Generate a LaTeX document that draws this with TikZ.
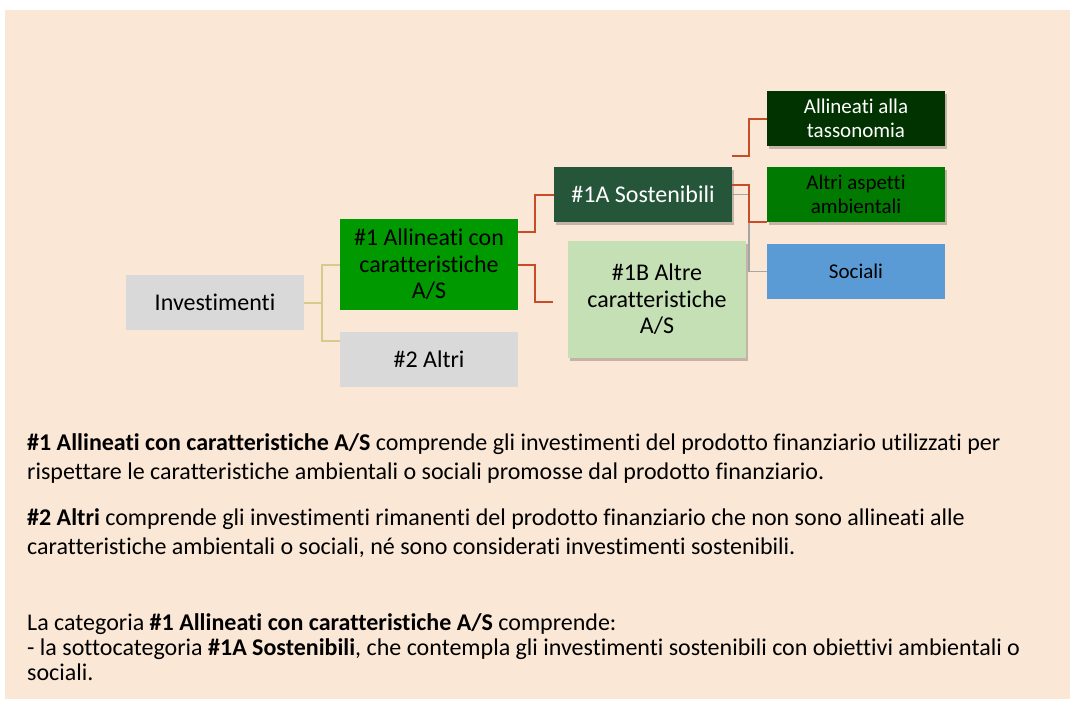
\documentclass[tikz,border=0pt]{standalone}
\usepackage{fontspec}
\setmainfont{Carlito}[Ligatures={NoCommon}]
\usetikzlibrary{shadows}
\definecolor{bgpeach}{RGB}{250,231,214}
\definecolor{boxgray}{RGB}{217,217,217}
\definecolor{grn}{RGB}{0,153,0}
\definecolor{darkgrn}{RGB}{38,86,58}
\definecolor{taxgrn}{RGB}{0,51,0}
\definecolor{ambgrn}{RGB}{0,122,0}
\definecolor{socblue}{RGB}{91,155,213}
\definecolor{lightgrn}{RGB}{197,224,180}
\definecolor{redline}{RGB}{200,76,40}
\definecolor{oliveline}{RGB}{214,203,140}
\definecolor{grayline}{RGB}{165,165,165}
\begin{document}
\begin{tikzpicture}[x=1pt,y=-1pt,
  box/.style={inner sep=0pt, align=center, minimum width=178pt, minimum height=55pt},
  bigtxt/.style={font=\fontsize{24}{26.5}\selectfont},
  smalltxt/.style={font=\fontsize{21}{24}\selectfont},
  shad/.style={drop shadow={shadow xshift=2pt, shadow yshift=-3pt, opacity=0.22, fill=black}},
  conn/.style={line width=2pt},
  bodyline/.style={anchor=base west, inner sep=0pt, font=\fontsize{24}{29}\selectfont}
]
\useasboundingbox (0,0) rectangle (1070,701);
\fill[white] (0,0) rectangle (1070,701);
\fill[bgpeach] (5,10) rectangle (1070,699);

% boxes
\node[box, bigtxt, fill=boxgray] (inv) at (215,302.5) {Investimenti};
\node[box, bigtxt, fill=grn, minimum height=91pt] (n1) at (429,264.5) {\#1 Allineati con\\caratteristiche\\A/S};
\node[box, bigtxt, fill=boxgray] (n2) at (429,359.5) {\#2 Altri};
\node[box, bigtxt, fill=darkgrn, text=white, shad] (n1a) at (643,194.5) {\#1A Sostenibili};
\node[box, bigtxt, fill=lightgrn, minimum height=117pt, shad] (n1b) at (657,299.5) {\#1B Altre\\caratteristiche\\A/S};
\node[box, smalltxt, fill=taxgrn, text=white, shad] (tax) at (856,118.5) {Allineati alla\\tassonomia};
\node[box, smalltxt, fill=ambgrn, shad] (amb) at (856,194.5) {Altri aspetti\\ambientali};
\node[box, smalltxt, fill=socblue] (soc) at (856,271.5) {Sociali};

% connectors
\draw[conn, oliveline] (inv.east) -- ++(18,0) |- (n1.west);
\draw[conn, oliveline] (inv.east) -- ++(18,0) |- ([yshift=-9pt]n2.north west);
\draw[conn, redline] ([yshift=-13pt]n1.north east) -- ++(17,0) |- (n1a.west);
\draw[conn, redline] (n1.east) -- ++(17,0) |- ([xshift=-15pt,yshift=-2.5pt]n1b.west);
\draw[line width=1.5pt, grayline] (n1a.east) -- ++(17,0) |- (soc.west);
\draw[conn, redline] ([yshift=9.5pt]n1a.east) -- ++(17,0) |- (amb.south west);
\draw[conn, redline] ([yshift=11pt]n1a.north east) -- ++(17,0) |- (tax.west);

% body text
\node[bodyline] (l1) at (27,450) {\textbf{\#1 Allineati con caratteristiche A/S} comprende gli investimenti del prodotto finanziario utilizzati per};
\node[bodyline] (l2) at (27,479) {rispettare le caratteristiche ambientali o sociali promosse dal prodotto finanziario.};
\node[bodyline] (l3) at (27,525) {\textbf{\#2 Altri} comprende gli investimenti rimanenti del prodotto finanziario che non sono allineati alle};
\node[bodyline] (l4) at (27,554) {caratteristiche ambientali o sociali, né sono considerati investimenti sostenibili.};
\node[bodyline] (l5) at (27,630) {La categoria \textbf{\#1 Allineati con caratteristiche A/S} comprende:};
\node[bodyline] (l6) at (27,655) {- la sottocategoria \textbf{\#1A Sostenibili}, che contempla gli investimenti sostenibili con obiettivi ambientali o};
\node[bodyline] (l7) at (27,680) {sociali.};
\end{tikzpicture}
\end{document}
